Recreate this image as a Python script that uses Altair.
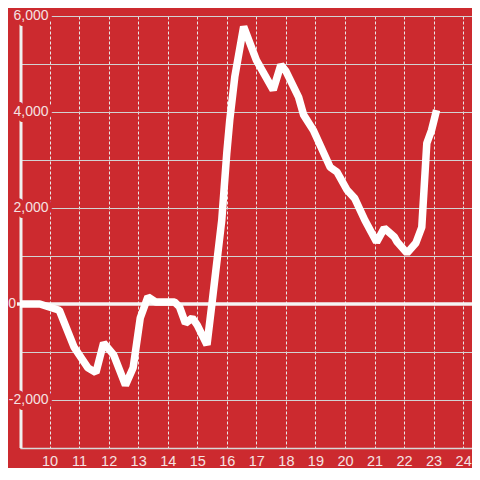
import altair as alt
import pandas as pd

# Line data (hour of day, value)
hours = [9.0, 9.67, 10.33, 10.83, 11.3, 11.57, 11.83, 12.17, 12.57, 12.83,
         13.07, 13.33, 13.6, 14.23, 14.4, 14.6, 14.83, 15.0, 15.33, 15.5,
         15.83, 16.0, 16.1, 16.27, 16.57, 17.0, 17.57, 17.83, 18.0, 18.43,
         18.6, 18.93, 19.5, 19.73, 20.07, 20.33, 20.67, 21.07, 21.33, 21.67,
         21.77, 22.1, 22.4, 22.6, 22.77, 22.93, 23.1]
values = [0, 0, -130, -900, -1330, -1430, -810, -1060, -1690, -1330,
          -290, 150, 40, 40, -60, -400, -290, -440, -850, 20,
          1750, 3150, 3830, 4730, 5780, 5080, 4460, 4980, 4850, 4310,
          3940, 3620, 2850, 2750, 2375, 2200, 1750, 1290, 1580, 1400,
          1290, 1060, 1270, 1600, 3350, 3620, 4040]

x_ticks = list(range(10, 25))
grid_values = list(range(-3000, 7000, 1000))
y_ticks = [-2000, 0, 2000, 4000, 6000]
y_labels = ["-2,000", "0", "2,000", "4,000", "6,000"]

bg = "#cc2a2f"
grid_c = "#d2d2d2"
vgrid_c = "#e8e8e8"
axis_c = "#f0f0f0"
label_c = "#f5e2e2"
font = "Liberation Sans"

line_df = pd.DataFrame({"h": hours, "v": values})
lab_df = pd.DataFrame({"v": y_ticks, "t": y_labels})
zero_df = pd.DataFrame({"v": [0]})
one_df = pd.DataFrame({"a": [1]})

x_enc = alt.X(
    "h:Q",
    scale=alt.Scale(domain=[9, 24.3], nice=False, zero=False),
    axis=alt.Axis(values=x_ticks, format="d", grid=True, gridDash=[3, 2],
                  gridColor=vgrid_c, gridWidth=1, ticks=False,
                  domainColor="#d8d8d8", domainWidth=1.5,
                  labelColor=label_c, labelFontSize=14.5, labelFont=font,
                  labelPadding=6, title=None),
)
y_enc = alt.Y(
    "v:Q",
    scale=alt.Scale(domain=[-3000, 6000], nice=False),
    axis=alt.Axis(values=grid_values, grid=True, gridColor=grid_c, gridWidth=1,
                  labels=False, ticks=False, domain=False, title=None),
)

left_rule = alt.Chart(one_df).mark_rule(color=axis_c, strokeWidth=3).encode(
    x=alt.value(1)
)

text_kw = dict(baseline="middle", fontSize=14, font=font)
lab_x = 28.5

halo_nz = alt.Chart(lab_df).transform_filter("datum.v != 0").mark_text(
    align="right", stroke=bg, strokeWidth=8, strokeJoin="round", fill=bg, **text_kw
).encode(x=alt.value(lab_x), y=y_enc, text="t:N")
halo_z = alt.Chart(lab_df).transform_filter("datum.v == 0").mark_text(
    align="right", stroke=bg, strokeWidth=8, strokeJoin="round", fill=bg, **text_kw
).encode(x=alt.value(-4), y=y_enc, text="t:N")

zero_line = alt.Chart(zero_df).mark_rule(color="#f5f5f5", strokeWidth=3.5).encode(
    x=alt.value(-3), x2=alt.value(452), y=y_enc
)

lab_nz = alt.Chart(lab_df).transform_filter("datum.v != 0").mark_text(
    align="right", fill=label_c, **text_kw
).encode(x=alt.value(lab_x), y=y_enc, text="t:N")
lab_z = alt.Chart(lab_df).transform_filter("datum.v == 0").mark_text(
    align="right", fill=label_c, **text_kw
).encode(x=alt.value(-4), y=y_enc, text="t:N")

line = alt.Chart(line_df).mark_line(
    color="white", strokeWidth=7.5, strokeJoin="bevel", strokeCap="butt"
).encode(x=x_enc, y=y_enc)

chart = alt.layer(
    left_rule, halo_nz, halo_z, zero_line, lab_nz, lab_z, line
).properties(
    width=452,
    height=432,
    background=bg,
    padding={"left": 12, "top": 8, "right": 0, "bottom": 20},
    autosize=alt.AutoSizeParams(type="none"),
).configure_view(stroke=None)

chart.save("out.html", embed_options={"renderer": "svg", "actions": False})
